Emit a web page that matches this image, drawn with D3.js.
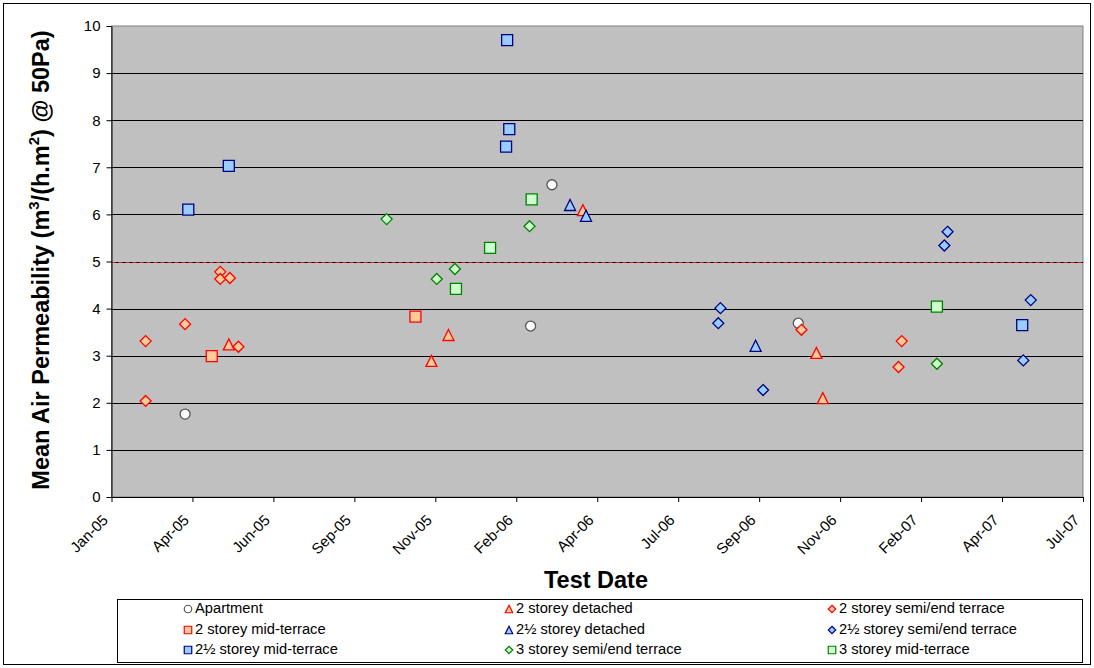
<!DOCTYPE html>
<html lang="en">
<head>
<meta charset="UTF-8">
<title>Mean Air Permeability by Test Date</title>
<script src="https://d3js.org/d3.v7.min.js"></script>
<style>
    body { margin: 0; background: #fff; }
    svg text { font-family: "Liberation Sans", Arial, sans-serif; }
</style>
</head>
<body>
<svg id="chart" width="1094" height="668"></svg>
<script>
    // Tick labels along the date axis (evenly spaced in the original)
    const xTickLabels = ["Jan-05", "Apr-05", "Jun-05", "Sep-05", "Nov-05", "Feb-06", "Apr-06",
        "Jul-06", "Sep-06", "Nov-06", "Feb-07", "Apr-07", "Jul-07"];
    const yTicks = [0, 1, 2, 3, 4, 5, 6, 7, 8, 9, 10];
    const targetLine = 5;

    // Series: [date, permeability]
    const apartment = [["2005-03-11", 1.76], ["2006-02-18", 6.63], ["2006-01-29", 3.63], ["2006-10-07", 3.69]];
    const detached2 = [["2005-04-21", 3.24], ["2005-11-13", 3.44], ["2005-10-28", 2.89], ["2006-03-19", 6.09],
        ["2006-10-24", 3.06], ["2006-10-30", 2.10]];
    const semiEnd2 = [["2005-02-02", 3.31], ["2005-02-02", 2.04], ["2005-03-11", 3.67], ["2005-04-13", 4.78],
        ["2005-04-13", 4.63], ["2005-04-22", 4.65], ["2005-04-30", 3.19], ["2006-10-10", 3.55],
        ["2007-01-12", 3.31], ["2007-01-09", 2.76]];
    const midTerrace2 = [["2005-04-05", 2.99], ["2005-10-13", 3.83]];
    const detached25 = [["2006-03-07", 6.20], ["2006-03-22", 5.97], ["2006-08-28", 3.21]];
    const semiEnd25 = [["2006-07-26", 4.01], ["2006-07-24", 3.69], ["2006-09-04", 2.27], ["2007-02-24", 5.63],
        ["2007-02-21", 5.34], ["2007-05-13", 4.18], ["2007-05-06", 2.90]];
    const midTerrace25 = [["2005-04-21", 7.03], ["2005-03-14", 6.10], ["2006-01-07", 9.70], ["2006-01-09", 7.81],
        ["2006-01-06", 7.44], ["2007-05-05", 3.65]];
    const semiEnd3 = [["2005-09-16", 5.90], ["2006-01-28", 5.75], ["2005-11-19", 4.84], ["2005-11-02", 4.63],
        ["2007-02-14", 2.83]];
    const midTerrace3 = [["2005-12-22", 5.29], ["2005-11-20", 4.42], ["2006-01-30", 6.32], ["2007-02-14", 4.04]];

    const series = [
        { name: "Apartment", shape: "circle", stroke: "#555555", fill: "#ffffff", data: apartment },
        { name: "2 storey detached", shape: "triangle", stroke: "#ff0000", fill: "#ffcc99", data: detached2 },
        { name: "2 storey semi/end terrace", shape: "diamond", stroke: "#ff0000", fill: "#ffcc99", data: semiEnd2 },
        { name: "2 storey mid-terrace", shape: "square", stroke: "#ff0000", fill: "#ffcc99", data: midTerrace2 },
        { name: "2½ storey detached", shape: "triangle", stroke: "#000080", fill: "#99ccff", data: detached25 },
        { name: "2½ storey semi/end terrace", shape: "diamond", stroke: "#000080", fill: "#99ccff", data: semiEnd25 },
        { name: "2½ storey mid-terrace", shape: "square", stroke: "#000080", fill: "#99ccff", data: midTerrace25 },
        { name: "3 storey semi/end terrace", shape: "diamond", stroke: "#008000", fill: "#ccffcc", data: semiEnd3 },
        { name: "3 storey mid-terrace", shape: "square", stroke: "#008000", fill: "#ccffcc", data: midTerrace3 }
    ];

    const margin = { top: 26, right: 11, bottom: 171, left: 111.5 };
    const width = 1083 - margin.left;
    const height = 497 - margin.top;

    const svg = d3.select("#chart");
    const parse = d3.timeParse("%Y-%m-%d");

    // outer chart frame
    svg.append("rect")
        .attr("x", 3.5).attr("y", 3.5)
        .attr("width", 1087).attr("height", 661)
        .attr("fill", "#fff").attr("stroke", "#000").attr("stroke-width", 1);

    const g = svg.append("g").attr("transform", `translate(${margin.left},${margin.top})`);

    const x = d3.scaleTime()
        .domain([parse("2005-01-01"), parse("2007-07-01")])
        .range([0, width]);
    const y = d3.scaleLinear().domain([0, 10]).range([height, 0]);

    // plot background
    g.append("rect")
        .attr("width", width).attr("height", height)
        .attr("fill", "#c0c0c0")
        .attr("stroke", "#808080");

    // gridlines
    g.selectAll(".grid")
        .data(yTicks.filter(d => d > 0 && d < 10))
        .enter().append("line")
        .attr("x1", 0).attr("x2", width)
        .attr("y1", d => Math.round(y(d)) + 0.5).attr("y2", d => Math.round(y(d)) + 0.5)
        .attr("stroke", "#000").attr("stroke-width", 1);

    // 5 m3/(h.m2) reference line
    g.append("line")
        .attr("x1", 0).attr("x2", width)
        .attr("y1", Math.round(y(targetLine)) + 0.5).attr("y2", Math.round(y(targetLine)) + 0.5)
        .attr("stroke", "#dd2222").attr("stroke-width", 1.2)
        .attr("stroke-dasharray", "4,3");

    // axes
    const xTickDates = xTickLabels.map((d, i) => x.invert(i * width / (xTickLabels.length - 1)));
    const xAxis = d3.axisBottom(x)
        .tickValues(xTickDates)
        .tickSize(5)
        .tickSizeOuter(0)
        .tickFormat((d, i) => xTickLabels[i]);
    const gx = g.append("g")
        .attr("transform", `translate(0,${height})`)
        .call(xAxis);
    gx.select(".domain").attr("stroke", "#000");
    gx.selectAll(".tick line").attr("stroke", "#000");
    gx.selectAll(".tick text")
        .attr("font-size", 15)
        .attr("fill", "#000")
        .attr("text-anchor", "end")
        .attr("x", 0).attr("y", 0)
        .attr("dx", 0).attr("dy", 0)
        .attr("transform", "translate(-3,24) rotate(-45)");

    const yAxis = d3.axisLeft(y).tickValues(yTicks).tickSize(5).tickSizeOuter(0).tickPadding(6);
    const gy = g.append("g").call(yAxis);
    gy.select(".domain").attr("stroke", "#000");
    gy.selectAll(".tick line").attr("stroke", "#000");
    gy.selectAll(".tick text").attr("font-size", 15).attr("fill", "#000");

    // marker shapes
    function shapePath(shape, s) {
        const h = s / 2;
        if (shape === "square") return `M${-h},${-h}H${h}V${h}H${-h}Z`;
        if (shape === "diamond") return `M0,${-h}L${h},0L0,${h}L${-h},0Z`;
        if (shape === "triangle") return `M0,${-h}L${h},${h}H${-h}Z`;
        const r = h;
        return `M${r},0A${r},${r} 0 1,1 ${-r},0A${r},${r} 0 1,1 ${r},0Z`;
    }
    const markerSize = { square: 11, diamond: 11, triangle: 11, circle: 10 };

    series.forEach(s => {
        g.append("g").selectAll("path")
            .data(s.data)
            .enter().append("path")
            .attr("transform", d => `translate(${x(parse(d[0]))},${y(d[1])})`)
            .attr("d", shapePath(s.shape, markerSize[s.shape]))
            .attr("fill", s.fill)
            .attr("stroke", s.stroke)
            .attr("stroke-width", 1.3);
    });

    // axis titles
    svg.append("text")
        .attr("x", 596).attr("y", 588)
        .attr("text-anchor", "middle")
        .attr("font-size", 23.5).attr("font-weight", "bold")
        .text("Test Date");

    const yt = svg.append("text")
        .attr("transform", "translate(49,260) rotate(-90)")
        .attr("text-anchor", "middle")
        .attr("font-size", 23.5).attr("font-weight", "bold");
    yt.append("tspan").text("Mean Air Permeability (m");
    yt.append("tspan").attr("font-size", 15).attr("dy", -10).text("3");
    yt.append("tspan").attr("dy", 10).text("/(h.m");
    yt.append("tspan").attr("font-size", 15).attr("dy", -10).text("2");
    yt.append("tspan").attr("dy", 10).text(") @ 50Pa)");

    // legend
    const legend = svg.append("g");
    legend.append("rect")
        .attr("x", 117.5).attr("y", 599.5)
        .attr("width", 965).attr("height", 63)
        .attr("fill", "#fff").attr("stroke", "#000");
    const colX = [188, 509, 832];
    const rowY = [608, 629, 649];
    series.forEach((s, i) => {
        const cx = colX[i % 3], cy = rowY[Math.floor(i / 3)];
        legend.append("path")
            .attr("transform", `translate(${cx},${cy + 1})`)
            .attr("d", shapePath(s.shape, 7.5))
            .attr("fill", s.fill).attr("stroke", s.stroke).attr("stroke-width", 1.2);
        legend.append("text")
            .attr("x", cx + 7).attr("y", cy + 5)
            .attr("font-size", 14.7)
            .text(s.name);
    });
</script>
</body>
</html>
